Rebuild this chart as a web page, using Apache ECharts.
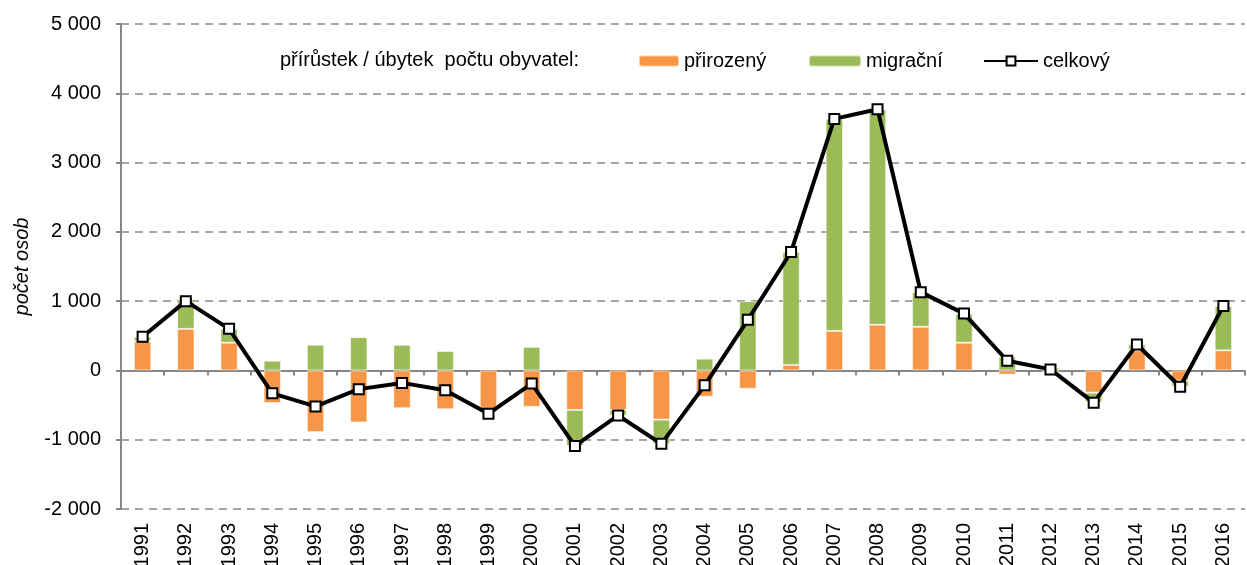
<!DOCTYPE html>
<html>
<head>
<meta charset="utf-8">
<script src="https://cdn.jsdelivr.net/npm/echarts@6/dist/echarts.min.js"></script>
<style>
  html, body { margin: 0; padding: 0; background: #fff; }
  #chart { width: 1247px; height: 565px; }
</style>
</head>
<body>
<div id="chart"></div>
<script>
// roky
const years = ['1991', '1992', '1993', '1994', '1995', '1996', '1997', '1998', '1999', '2000',
  '2001', '2002', '2003', '2004', '2005', '2006', '2007', '2008', '2009', '2010',
  '2011', '2012', '2013', '2014', '2015', '2016']
// přirozený přírůstek / úbytek
const natural = [420, 600, 400, -470, -890, -750, -545, -560, -610, -525,
  -570, -570, -710, -380, -265, 80, 570, 660, 630, 400,
  -60, -25, -320, 290, -150, 290]
// migrační saldo
const migration = [65, 400, 200, 140, 370, 480, 370, 280, -15, 340,
  -520, -80, -350, 170, 1000, 1630, 3060, 3110, 500, 420,
  200, 40, -140, 90, -85, 640]
// celkový přírůstek
const total = [485, 1000, 600, -330, -520, -270, -180, -285, -625, -190,
  -1090, -650, -1060, -215, 730, 1710, 3630, 3770, 1130, 820,
  140, 15, -465, 375, -235, 930]

const font = 'Liberation Sans, Arial, sans-serif'
const gray = '#868686'

const fmt = v => {
  let s = Math.abs(v).toString().replace(/\B(?=(\d{3})+(?!\d))/g, ' ')
  return (v < 0 ? '-' : '') + s
}

const legendText = { fontSize: 20, color: '#000', fontFamily: font }

const chart = echarts.init(document.getElementById('chart'))
chart.setOption({
  animation: false,
  textStyle: { fontFamily: font },
  grid: { left: 121, right: 2, top: 24, bottom: 56, containLabel: false, outerBoundsMode: 'none' },
  graphic: [
    {
      type: 'text', left: 280, top: 50,
      style: { text: 'přírůstek / úbytek  počtu obyvatel:', fontSize: 20, fontFamily: font, fill: '#000' }
    }
  ],
  // tři legendy, aby šířky značek seděly
  legend: [
    { left: 633, top: 46, itemWidth: 40, itemHeight: 11, textStyle: legendText, data: ['přirozený'] },
    { left: 803, top: 46, itemWidth: 52, itemHeight: 11, textStyle: legendText, data: ['migrační'] },
    { left: 978, top: 46, itemWidth: 54, itemHeight: 11, textStyle: legendText, data: ['celkový'] }
  ],
  xAxis: [
    {
      type: 'category',
      data: years,
      axisLine: { onZero: true, lineStyle: { color: gray, width: 2 } },
      axisTick: { show: true, length: 5, lineStyle: { color: gray, width: 2 } },
      axisLabel: { show: false },
      splitLine: { show: false }
    },
    {
      type: 'category',
      data: years,
      position: 'bottom',
      axisLine: { show: false, onZero: false },
      axisTick: { show: false },
      axisLabel: { rotate: 90, fontSize: 20, color: '#000', margin: 14, interval: 0 },
      splitLine: { show: false }
    }
  ],
  yAxis: {
    type: 'value',
    min: -2000, max: 5000, interval: 1000,
    name: 'počet osob',
    nameLocation: 'middle',
    nameGap: 89,
    nameRotate: 90,
    nameTextStyle: { fontSize: 20, fontStyle: 'italic', color: '#000' },
    axisLine: { show: true, lineStyle: { color: gray, width: 2 } },
    axisTick: { show: true, length: 5, lineStyle: { color: gray, width: 2 } },
    axisLabel: { fontSize: 20, color: '#000', margin: 20, formatter: fmt },
    splitLine: { show: true, lineStyle: { color: gray, width: 1.5, type: [8, 6] } }
  },
  series: [
    {
      name: 'přirozený', type: 'bar', stack: 'a', barWidth: '40%',
      itemStyle: { color: '#F79646', borderColor: 'rgba(255,255,255,0.5)', borderWidth: 1 },
      data: natural
    },
    {
      name: 'migrační', type: 'bar', stack: 'a', barWidth: '40%',
      itemStyle: { color: '#9BBB59', borderColor: 'rgba(255,255,255,0.5)', borderWidth: 1 },
      data: migration
    },
    {
      name: 'celkový', type: 'line',
      symbol: 'rect', symbolSize: 10,
      lineStyle: { color: '#000', width: 4 },
      itemStyle: { color: '#fff', borderColor: '#000', borderWidth: 2 },
      z: 5,
      data: total
    }
  ]
})
</script>
</body>
</html>
